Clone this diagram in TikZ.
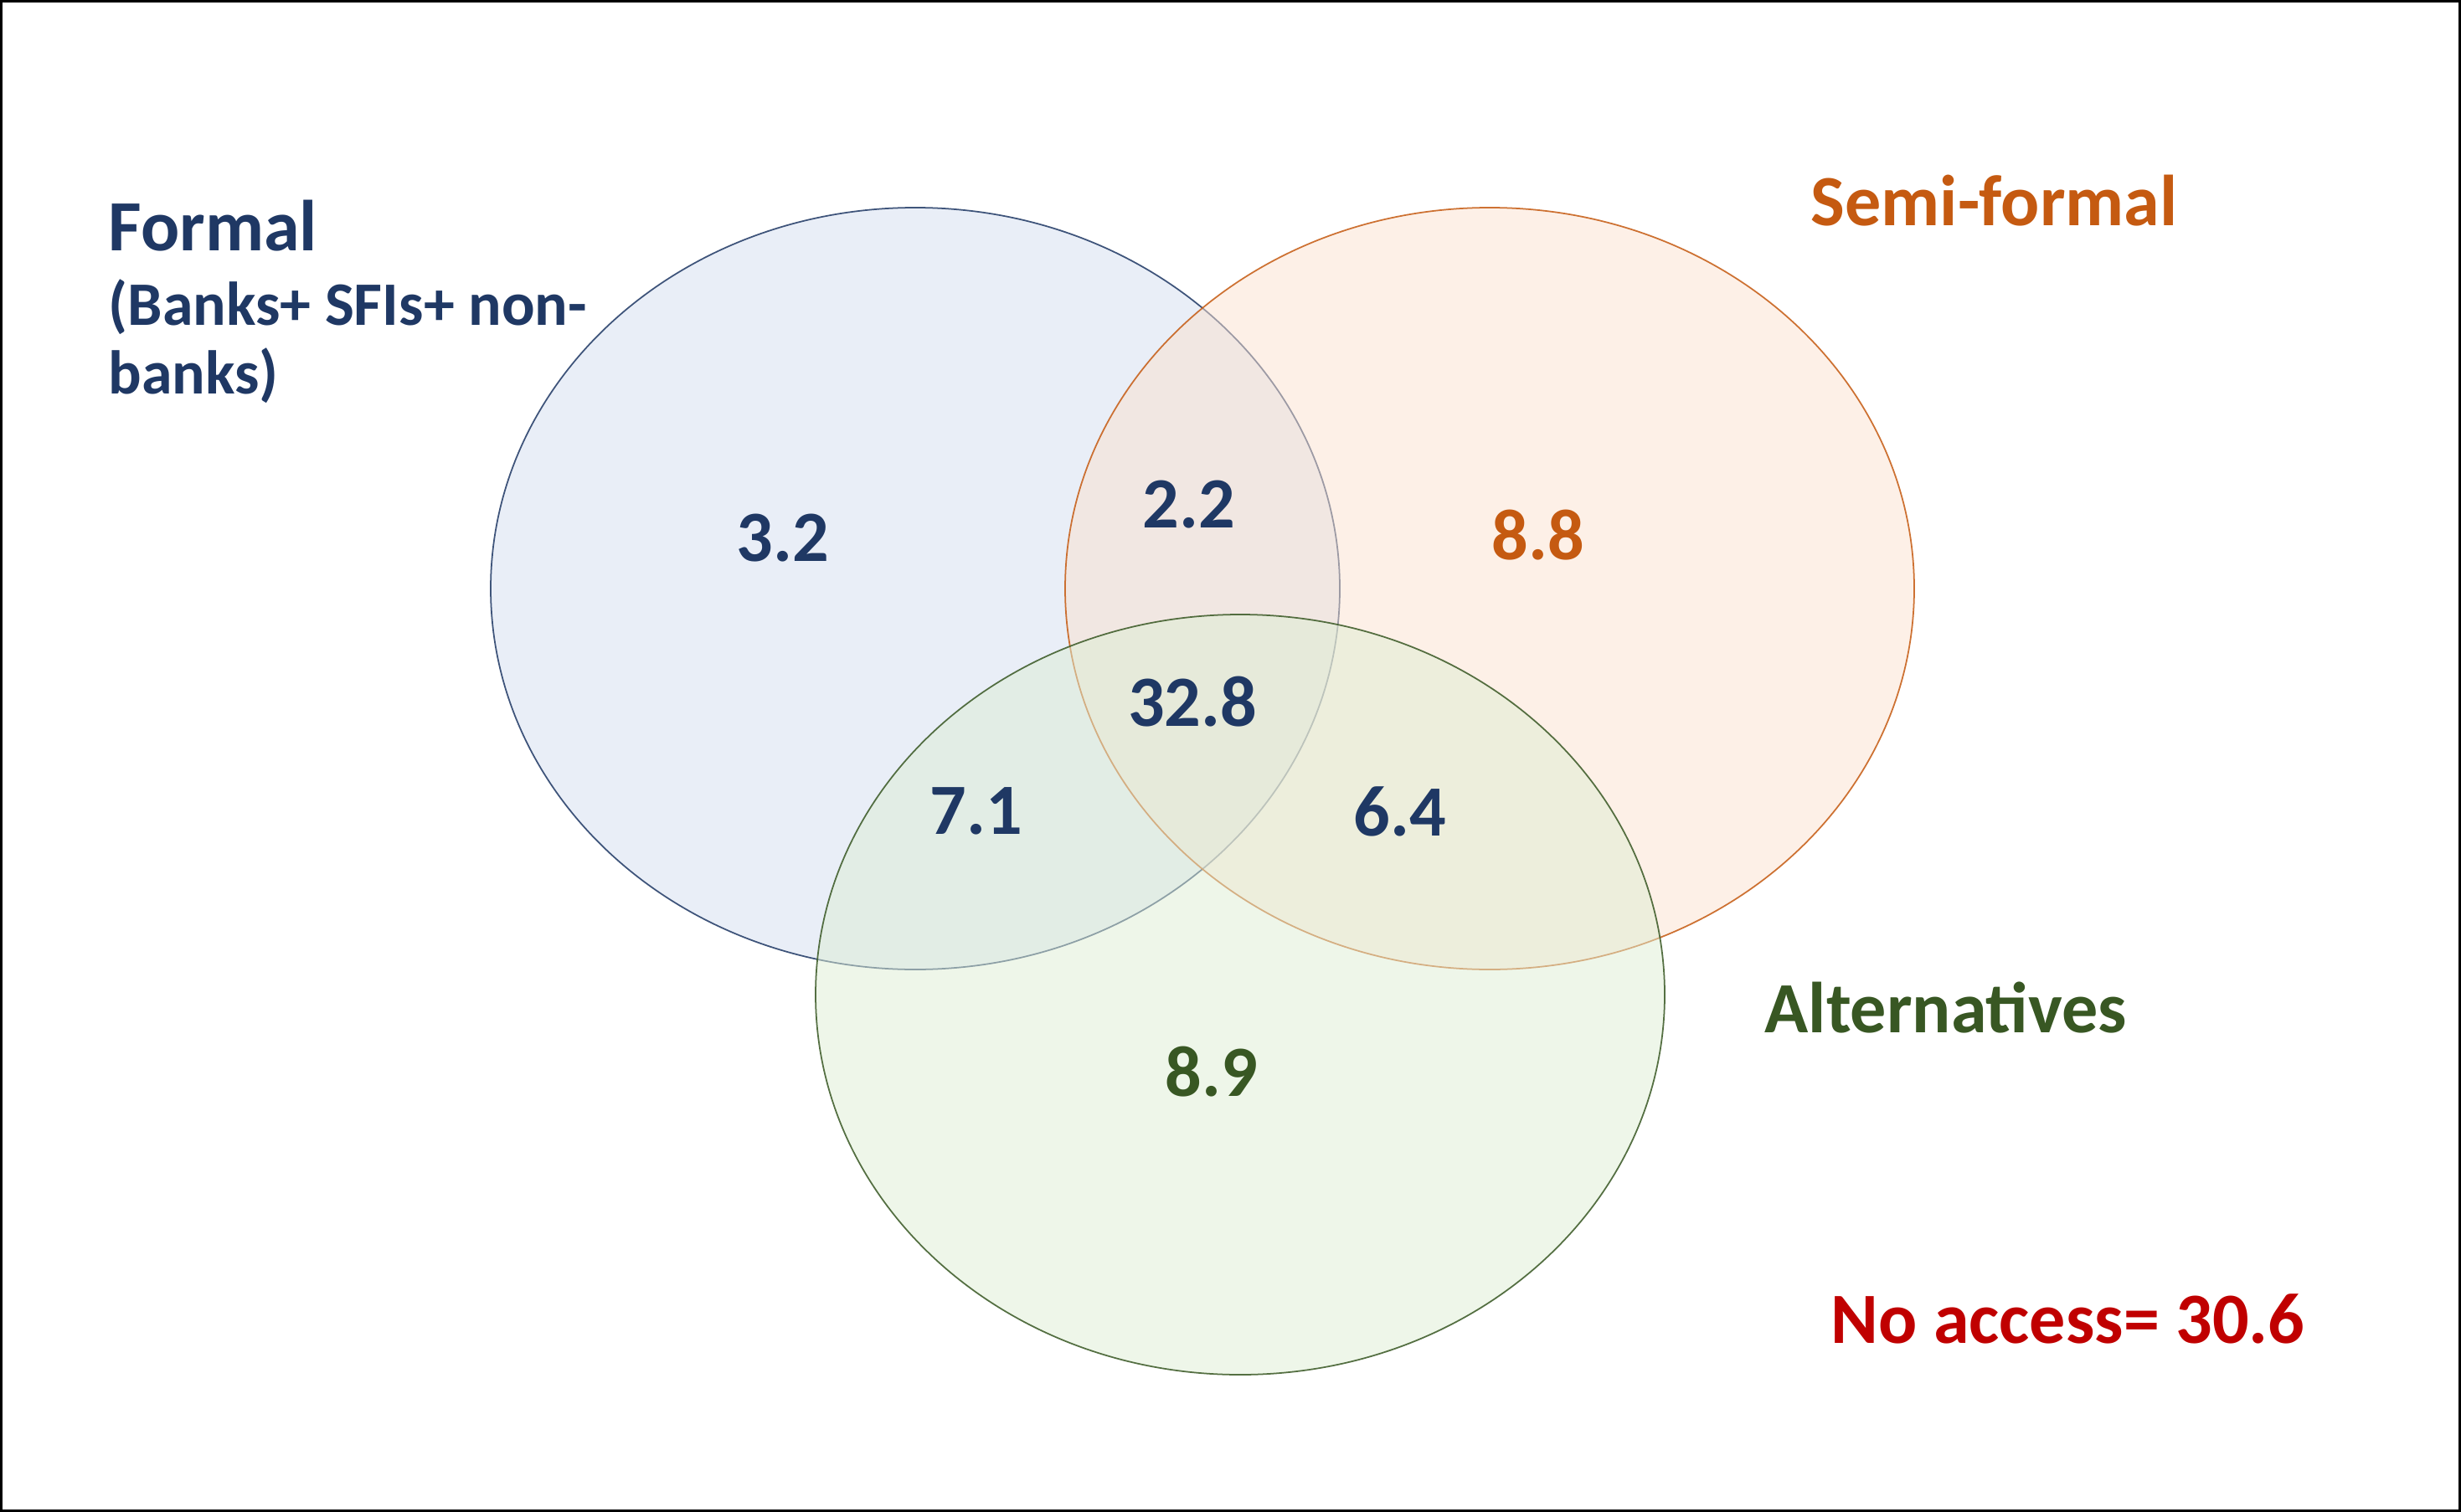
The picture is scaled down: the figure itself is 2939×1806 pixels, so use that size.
\documentclass[tikz,border=0pt]{standalone}
\usepackage{fontspec}
\setmainfont{Carlito}
\usetikzlibrary{positioning}
\definecolor{formalline}{RGB}{31,56,100}
\definecolor{formalfill}{RGB}{211,221,239}
\definecolor{semiline}{RGB}{197,90,17}
\definecolor{semifill}{RGB}{251,225,207}
\definecolor{altline}{RGB}{56,87,35}
\definecolor{altfill}{RGB}{221,237,211}
\definecolor{noacc}{RGB}{192,0,0}
\tikzset{
  set/.style={line width=0.5pt, fill opacity=0.5, draw opacity=0.85},
  title/.style={anchor=base west, inner sep=0pt, font=\bfseries\fontsize{24.5}{30}\selectfont},
  sub/.style={anchor=north west, inner sep=0pt, align=left,
              font=\bfseries\fontsize{21}{23.3}\selectfont, text=formalline},
  val/.style={inner sep=0pt, font=\bfseries\fontsize{24.5}{30}\selectfont},
}
\begin{document}
\begin{tikzpicture}[x=0.01cm, y=-0.01cm]
  \useasboundingbox (0,0) rectangle (2939,1806);
  \draw[line width=0.8pt] (1.5,1.5) rectangle (2937.5,1804.5);

  %% the three sets
  \draw[set, draw=formalline, fill=formalfill] (1093,703) ellipse [x radius=507, y radius=455];
  \draw[set, draw=semiline, fill=semifill] (1779,703) ellipse [x radius=507, y radius=455];
  \draw[set, draw=altline, fill=altfill] (1481,1188) ellipse [x radius=507, y radius=454];

  %% set names
  \node[title, text=formalline] (formal) at (129,299) {Formal};
  \node[sub] (formalsub) at (129,333) {(Banks+ SFIs+ non-\\banks)};
  \node[title, text=semiline] (semi) at (2162,270) {Semi-formal};
  \node[title, text=altline] (alt) at (2107,1233) {Alternatives};
  \node[title, text=noacc, font=\bfseries\fontsize{24.5}{29}\selectfont] (none) at (2186,1604) {No access= 30.6};

  %% shares
  \node[val, text=formalline] (onlyformal) at (935,643) {3.2};
  \node[val, text=formalline] (formalsemi) at (1420,603) {2.2};
  \node[val, text=semiline] (onlysemi) at (1837,639) {8.8};
  \node[val, text=formalline] (allthree) at (1424,838) {32.8};
  \node[val, text=formalline] (formalalt) at (1166,969) {7.1};
  \node[val, text=formalline] (semialt) at (1672,969) {6.4};
  \node[val, text=altline] (onlyalt) at (1447,1280) {8.9};
\end{tikzpicture}
\end{document}
